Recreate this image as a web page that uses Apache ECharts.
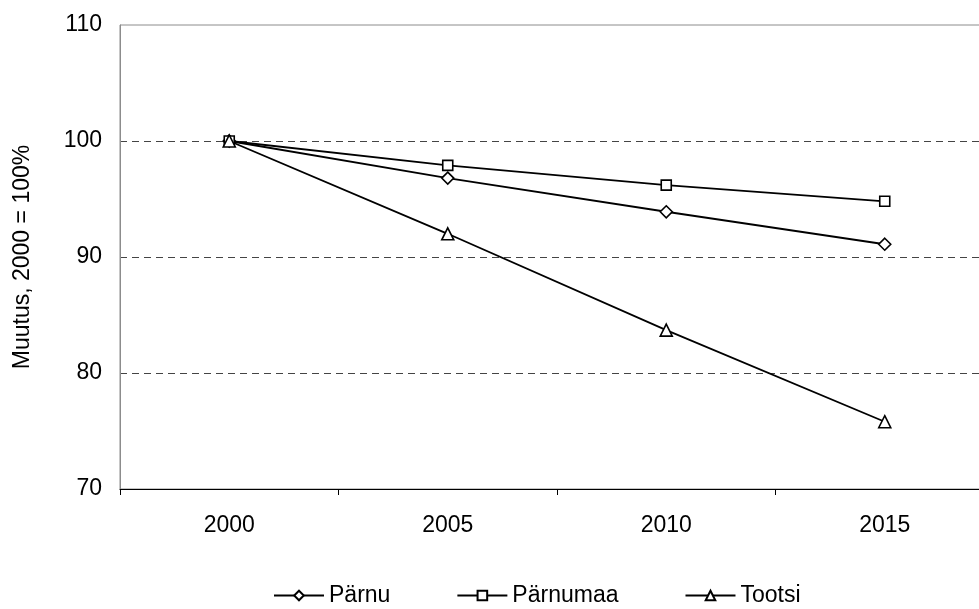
<!DOCTYPE html>
<html><head><meta charset="utf-8">
<script src="https://cdn.jsdelivr.net/npm/echarts@6/dist/echarts.min.js"></script>
<style>html,body{margin:0;padding:0;background:#fff;overflow:hidden}#c{width:1000px;height:609px}</style>
</head><body><div id="c"></div>
<script>
const categories = ['2000', '2005', '2010', '2015'];
const parnu = [100, 96.8, 93.9, 91.1];
const parnumaa = [100, 97.9, 96.2, 94.8];
const tootsi = [100, 92.0, 83.7, 75.8];
const seriesNames = ['Pärnu', 'Pärnumaa', 'Tootsi'];
const yTitle = 'Muutus, 2000 = 100%';

const font = 'Liberation Sans, Arial, sans-serif';
const chart = echarts.init(document.getElementById('c'), null, {renderer: 'canvas'});
function mk(name, data, symbol, size) {
  return {
    name, type: 'line', data, symbol, symbolSize: size,
    lineStyle: {color: '#000', width: 1.8},
    itemStyle: {color: '#fff', borderColor: '#000', borderWidth: 1.6},
    emphasis: {disabled: true}, animation: false, z: 3
  };
}
chart.setOption({
  animation: false,
  backgroundColor: '#fff',
  textStyle: {fontFamily: font, color: '#000'},
  grid: {left: 120, top: 25, width: 874, height: 464, show: true, borderColor: '#8c8c8c', borderWidth: 1, backgroundColor: 'transparent'},
  legend: {
    top: 579, left: 268, itemGap: 66, itemWidth: 50, itemHeight: 12,
    textStyle: {fontSize: 23, color: '#000', fontFamily: font},
    data: seriesNames.map(n => ({name: n}))
  },
  xAxis: {
    type: 'category', data: categories, boundaryGap: true,
    axisLine: {lineStyle: {color: '#000', width: 1.2}},
    axisTick: {show: true, length: 6, inside: false, lineStyle: {color: '#000'}},
    axisLabel: {fontSize: 23, color: '#000', margin: 25, fontFamily: font},
    splitLine: {show: false}
  },
  yAxis: {
    type: 'value', min: 70, max: 110, interval: 10,
    name: yTitle, nameLocation: 'middle', nameGap: 86, nameRotate: 90,
    nameTextStyle: {fontSize: 23, color: '#000', fontFamily: font},
    axisLine: {show: true, lineStyle: {color: '#8c8c8c', width: 1}},
    axisTick: {show: false},
    axisLabel: {fontSize: 23, color: '#000', margin: 18, fontFamily: font},
    splitLine: {show: true, showMinLine: false, showMaxLine: false, lineStyle: {color: '#444', type: [7, 5], width: 1}}
  },
  series: [
    mk(seriesNames[0], parnu, 'diamond', 12),
    mk(seriesNames[1], parnumaa, 'rect', 10),
    mk(seriesNames[2], tootsi, 'triangle', 12)
  ]
});
</script></body></html>
